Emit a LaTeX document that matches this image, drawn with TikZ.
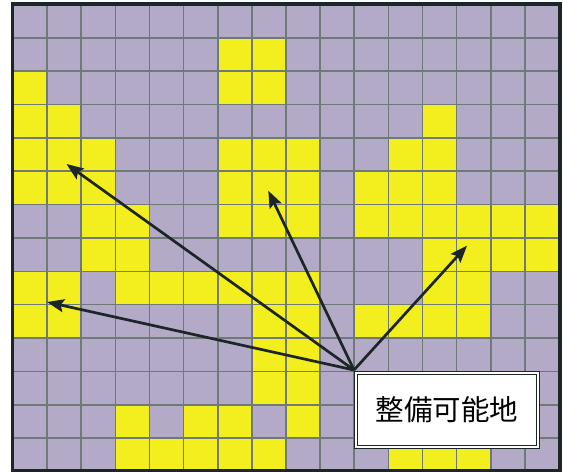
\documentclass[tikz,border=0pt]{standalone}
\usepackage{fontspec}
\newfontfamily\cjk{Noto Sans CJK JP}
\usetikzlibrary{arrows.meta}
\definecolor{lav}{HTML}{B2AAC6}
\definecolor{yel}{HTML}{F3EE1E}
\definecolor{gridc}{HTML}{6F7977}
\definecolor{ink}{HTML}{1C2628}
\begin{document}
\begin{tikzpicture}[x=1pt,y=-1pt,
  cellfill/.style={fill=yel},
  gridline/.style={draw=gridc,line width=1.6pt},
  frameline/.style={draw=ink,line width=3.6pt},
  pointer/.style={draw=ink,line width=2.7pt,-{Stealth[length=17pt,width=13pt,inset=3pt]}},
  labelbox/.style={draw=ink,double=white,line width=1.3pt,double distance=1.8pt,fill=white,
    minimum width=181.6pt,minimum height=73.6pt,inner sep=0pt,font=\cjk\fontsize{28.5}{30}\selectfont}]
\useasboundingbox (0,0) rectangle (563,472);
\fill[white] (0,0) rectangle (563,472);
\def\cw{34.125}
\def\ch{33.35}
\fill[lav] (13,4.5) rectangle (559,471);
\foreach \r/\cols in {2/{7,8},3/{1,7,8},4/{1,2,13},5/{1,2,3,7,8,9,12,13},
  6/{1,2,3,7,8,9,11,12,13},7/{3,4,7,8,9,11,12,13,14,15,16},8/{3,4,13,14,15,16},
  9/{1,2,4,5,6,7,8,9,13,14},10/{1,2,8,9,11,12,13,14},11/{8,9},12/{8,9},
  13/{4,6,7,9},14/{4,5,6,7,8,12,13,14}}{
  \foreach \c in \cols {
    \fill[cellfill] ({13+(\c-1)*\cw},{4.5+(\r-1)*\ch}) rectangle ++(\cw,\ch);
  }
}
\foreach \i in {1,...,15} \draw[gridline] ({13+\i*\cw},4.5) -- ({13+\i*\cw},471);
\foreach \j in {1,...,13} \draw[gridline] (13,{4.5+\j*\ch}) -- (559,{4.5+\j*\ch});
\draw[frameline] (12.5,4) rectangle (560,470.3);
\node[labelbox] (box) at (447,410) {整備可能地};
\coordinate (hub) at (354,370);
\coordinate (t1) at (66.5,164);
\coordinate (t2) at (268.3,190.7);
\coordinate (t3) at (467,245.7);
\coordinate (t4) at (47,302);
\foreach \t in {t1,t2,t3,t4} \draw[pointer] (hub) -- (\t);
\end{tikzpicture}
\end{document}
